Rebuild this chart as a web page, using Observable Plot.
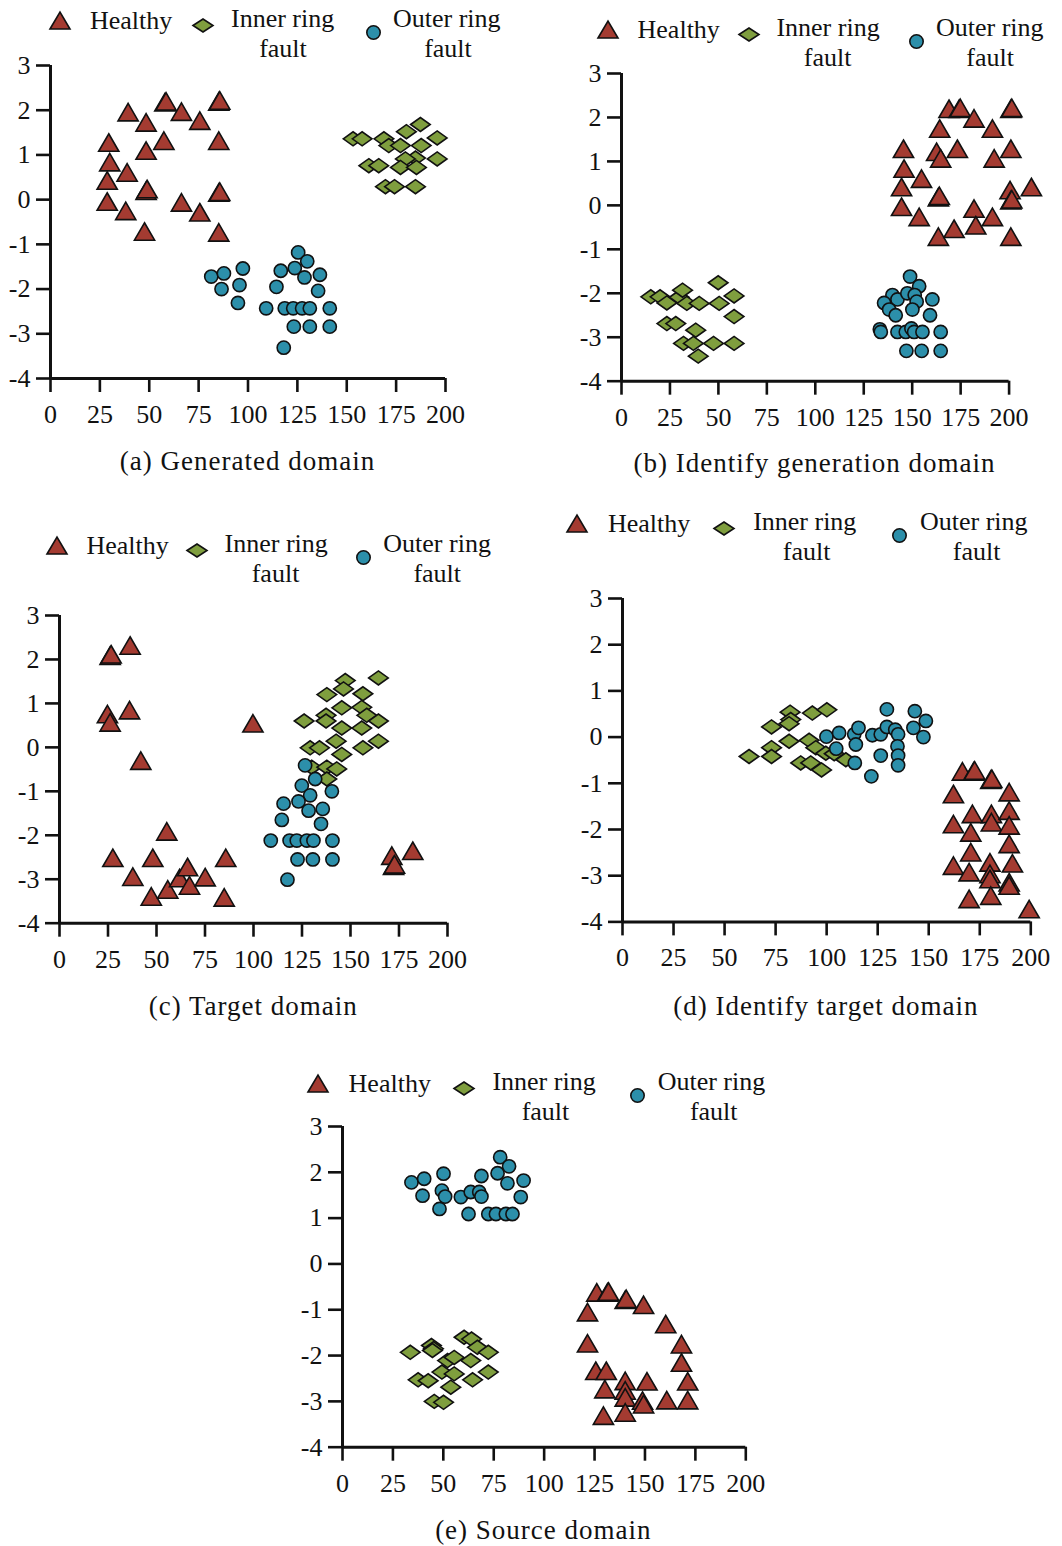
<!DOCTYPE html>
<html><head><meta charset="utf-8">
<script src="https://cdn.jsdelivr.net/npm/d3@7"></script>
<script src="https://cdn.jsdelivr.net/npm/@observablehq/plot@0.6"></script>
<style>
html,body{margin:0;padding:0;background:#fff;overflow:hidden}
#root{position:relative;width:1062px;height:1546px;font-family:"Liberation Serif","Times New Roman",serif;color:#111}
.abs{position:absolute;white-space:nowrap;line-height:26px;font-size:26px}
.cap{position:absolute;white-space:nowrap;font-size:27px;letter-spacing:1px;line-height:28px;transform:translateX(-50%)}
.ctr{transform:translateX(-50%)}
.panel{position:absolute}
.panel svg g[aria-label*="axis"] line,.panel svg g[aria-label*="axis"] path{stroke-width:2.6px}
</style></head><body><div id="root"></div>
<script>
// ---------- data ----------
const xTicks = [0, 25, 50, 75, 100, 125, 150, 175, 200];
const yTicks = [-4, -3, -2, -1, 0, 1, 2, 3];
const seriesNames = ["Healthy", "Inner ring fault", "Outer ring fault"];
const colors = ["#A43B31", "#7F9E3E", "#2C8FAA"];

const aHealthy = [[29.5,1.28],[30,0.84],[28.7,0.43],[28.7,-0.04],[39.3,1.96],[38.8,0.61],[38.1,-0.25],[48.4,1.73],[48.4,1.10],[48.4,0.20],[48.9,0.24],[47.6,-0.71],[57.9,2.18],[58.5,2.2],[57.4,1.32],[66.3,1.97],[66.3,-0.06],[75.6,1.77],[75.6,-0.28],[85.2,2.2],[85.7,2.22],[85.2,1.32],[85.2,0.16],[85.7,0.18],[85.2,-0.73]];
const aInner = [[153.2,1.36],[157.8,1.36],[168.8,1.36],[171.3,1.21],[177.2,1.21],[180.2,1.52],[187.3,1.68],[187.7,1.21],[195.8,1.38],[195.8,0.91],[184.8,0.93],[179.7,0.91],[177.2,0.72],[185.3,0.72],[161.2,0.76],[166.2,0.76],[169.6,0.29],[174.2,0.29],[184.8,0.29]];
const aOuter = [[81.4,-1.72],[87.8,-1.65],[97.4,-1.54],[86.6,-2.0],[95.7,-1.91],[94.9,-2.31],[109.2,-2.43],[116.6,-1.59],[114.4,-1.95],[118.6,-2.43],[122.9,-2.43],[127.4,-2.43],[131.3,-2.43],[141.4,-2.43],[123.2,-2.84],[131.3,-2.84],[141.4,-2.84],[118.1,-3.31],[125.4,-1.18],[130,-1.38],[123.7,-1.53],[128.6,-1.74],[136.4,-1.68],[135.5,-2.04]];

const bHealthy = [[145.5,1.29],[145.8,0.84],[144.5,0.42],[144.5,-0.03],[154.8,0.61],[153.6,-0.26],[163.5,-0.71],[164.2,1.75],[162.6,1.22],[164.7,1.07],[163.5,0.19],[164,0.22],[169,2.2],[174.2,2.2],[174.8,2.22],[173.3,1.29],[171.6,-0.53],[181.9,1.98],[181.9,-0.07],[182.8,-0.45],[191.4,1.75],[192.3,1.07],[191.4,-0.26],[200.9,2.2],[201.4,2.22],[200.9,1.29],[200.5,0.35],[200.9,0.12],[201.4,0.14],[200.9,-0.71],[211.5,0.42]];
const bInner = [[15.1,-2.08],[19.9,-2.08],[23.4,-2.22],[29.8,-2.09],[31.5,-1.93],[33.7,-2.23],[40.1,-2.23],[49.9,-1.76],[50.4,-2.23],[58.1,-2.06],[58.1,-2.53],[23.4,-2.69],[28,-2.69],[38.3,-2.84],[32,-3.14],[37.1,-3.14],[47.5,-3.14],[58.1,-3.14],[39.6,-3.43]];
const bOuter = [[148.9,-1.62],[153.6,-1.84],[139.8,-2.04],[142.4,-2.14],[147.5,-2.0],[151.3,-2.04],[152.3,-2.19],[160.4,-2.14],[135.5,-2.22],[138.1,-2.37],[141.5,-2.5],[150.1,-2.37],[159.2,-2.5],[133.3,-2.82],[133.8,-2.88],[142.4,-2.88],[146.7,-2.88],[149.6,-2.8],[151,-2.88],[155.3,-2.88],[164.7,-2.88],[147,-3.31],[154.9,-3.31],[164.7,-3.31]];

const cHealthy = [[26.1,2.09],[26.6,2.12],[36.4,2.32],[24.7,0.76],[26.1,0.57],[36.1,0.85],[41.9,-0.3],[99.7,0.55],[55.3,-1.91],[27.5,-2.51],[48.1,-2.51],[37.8,-2.94],[47.3,-3.39],[55.8,-3.23],[61.9,-2.97],[66,-2.72],[67,-3.14],[75.1,-2.95],[85.7,-2.51],[84.9,-3.41],[171.3,-2.46],[172.2,-2.69],[172.7,-2.66],[182.1,-2.35]];
const cInner = [[147.3,1.52],[146.4,1.33],[164.4,1.58],[137.8,1.2],[156.4,1.22],[145.5,0.9],[155.8,0.91],[137.4,0.73],[158.4,0.73],[126.1,0.6],[137.4,0.6],[164.4,0.6],[145.5,0.44],[155.8,0.44],[129.2,-0.01],[134,-0.01],[142.6,0.14],[156.4,-0.01],[164.4,0.14],[145.5,-0.16],[130,-0.45],[137.8,-0.45],[142.9,-0.49],[137.8,-0.72]];
const cOuter = [[126.6,-0.41],[131.8,-0.72],[124.9,-0.87],[129.2,-1.09],[140.4,-1.0],[115.5,-1.28],[123.2,-1.23],[128.4,-1.44],[135.7,-1.4],[114.6,-1.65],[134.8,-1.74],[108.9,-2.12],[118.6,-2.12],[122.3,-2.12],[127.5,-2.12],[130.9,-2.12],[140.7,-2.12],[122.7,-2.55],[130.6,-2.55],[140.7,-2.55],[117.5,-3.01]];

const dHealthy = [[166.5,-0.74],[172,-0.74],[172.5,-0.72],[180.4,-0.92],[180.9,-0.9],[162.1,-1.23],[189.4,-1.19],[171.4,-1.66],[180.7,-1.66],[189.4,-1.59],[162.1,-1.88],[180.7,-1.84],[189.4,-1.91],[170.6,-2.06],[189.4,-2.31],[170.6,-2.49],[162.1,-2.78],[180,-2.71],[191,-2.73],[169.8,-2.92],[180,-2.96],[180,-3.07],[189.4,-3.14],[189.4,-3.21],[169.8,-3.5],[180.4,-3.43],[199.2,-3.72]];
const dInner = [[62,-0.42],[73,0.22],[73,-0.23],[73,-0.42],[82.1,0.54],[82.4,0.38],[81.6,0.29],[81.6,-0.09],[93,0.52],[100.1,0.59],[91.4,-0.07],[94.7,-0.23],[87.3,-0.56],[92.2,-0.56],[97.5,-0.71],[99.6,-0.35],[103.7,-0.36],[109.4,-0.49]];
const dOuter = [[99.9,0.01],[106.1,0.09],[113.5,0.06],[115.6,0.2],[114.3,-0.16],[113.8,-0.56],[104.7,-0.25],[122.4,0.04],[126.5,0.06],[129.5,0.6],[129.5,0.22],[133.6,0.16],[135,0.06],[134.7,-0.2],[135,-0.4],[135,-0.61],[126.5,-0.4],[121.9,-0.85],[143.2,0.56],[148.6,0.35],[142.5,0.2],[147.4,0.0]];

const eHealthy = [[126.1,-0.62],[131.4,-0.62],[131.9,-0.6],[121.5,-1.05],[140.2,-0.78],[140.7,-0.76],[149.3,-0.89],[160.3,-1.31],[121.5,-1.73],[168.1,-1.75],[168.1,-2.15],[125.6,-2.33],[130.8,-2.33],[130.1,-2.73],[140.2,-2.55],[140.2,-2.76],[140.2,-2.91],[151,-2.56],[171.2,-2.56],[148.8,-2.98],[149.3,-3.06],[160.8,-2.97],[171.2,-2.97],[129.4,-3.31],[140.2,-3.24]];
const eInner = [[33.6,-1.93],[44.1,-1.78],[45.1,-1.85],[44.6,-1.89],[37.5,-2.53],[42.5,-2.55],[45.5,-3.0],[50.1,-3.02],[49.3,-2.36],[52.1,-2.11],[55.4,-2.04],[53.7,-2.69],[55.4,-2.4],[60.3,-1.6],[64,-1.64],[66.9,-1.82],[63.6,-2.11],[64.5,-2.53],[72.3,-1.93],[72.3,-2.36]];
const eOuter = [[34.2,1.78],[40.5,1.86],[50.1,1.97],[39.7,1.49],[49.3,1.6],[50.9,1.47],[48.1,1.2],[58.7,1.46],[63.6,1.57],[67.8,1.57],[68.9,1.47],[68.9,1.92],[62.5,1.09],[72.3,1.09],[76.1,1.09],[81,1.09],[84.3,1.09],[78.2,2.33],[76.9,1.98],[82.6,2.13],[81.8,1.76],[89.8,1.82],[88.4,1.46]];

const captions = ["(a) Generated domain", "(b) Identify generation domain", "(c) Target domain", "(d) Identify target domain", "(e) Source domain"];

// ---------- layout ----------
const panels = [
  {H:aHealthy, I:aInner, O:aOuter, x0:50, x1:445, yT:65, yB:378, leg:[60,21,1.0], capY:461},
  {H:bHealthy, I:bInner, O:bOuter, x0:620.7, x1:1008.3, yT:73.3, yB:381, leg:[608,30,0.985], capY:463},
  {H:cHealthy, I:cInner, O:cOuter, x0:59.3, x1:447.3, yT:615, yB:922.7, leg:[57,546,0.98], capY:1006},
  {H:dHealthy, I:dInner, O:dOuter, x0:621.7, x1:1030, yT:598.3, yB:921.7, leg:[577,524,1.03], capY:1006},
  {H:eHealthy, I:eInner, O:eOuter, x0:341.7, x1:745, yT:1126, yB:1446.7, leg:[318,1084,1.02], capY:1530}
];

const flatDiamond = {
  draw(ctx, size) {
    const r = Math.sqrt(size / Math.PI);
    const w = r * 1.4, h = r * 1.0;
    ctx.moveTo(-w, 0); ctx.lineTo(0, -h); ctx.lineTo(w, 0); ctx.lineTo(0, h); ctx.closePath();
  }
};

const root = document.getElementById("root");
const fmt = d => String(d);
const hasAxisMarks = typeof Plot.axisX === "function";

function el(html, left, top, cls) {
  const d = document.createElement("div");
  d.className = cls;
  d.style.left = left + "px";
  d.style.top = top + "px";
  d.innerHTML = html;
  root.appendChild(d);
  return d;
}

panels.forEach((p, i) => {
  const mL = 60, mT = 20, mB = 60;
  const mR = Math.min(40, 1062 - p.x1);
  const W = p.x1 - p.x0 + mL + mR;
  const H = p.yB - p.yT + mT + mB;
  const common = {x: d => d[0], y: d => d[1], stroke: "#111", strokeWidth: 1.6};
  const xAxisOpts = {ticks: xTicks, tickSize: 14, tickPadding: 12, tickFormat: fmt, label: null};
  const yAxisOpts = {ticks: yTicks, tickSize: 14, tickPadding: 6, tickFormat: fmt, label: null};
  const axisMarks = hasAxisMarks
    ? [Plot.axisX({...xAxisOpts, strokeWidth: 2.6}), Plot.axisY({...yAxisOpts, strokeWidth: 2.6})]
    : [];
  const svg = Plot.plot({
    width: W, height: H,
    marginLeft: mL, marginRight: mR, marginTop: mT, marginBottom: mB,
    style: {fontSize: "26px", fontFamily: "'Liberation Serif','Times New Roman',serif", color: "#111", background: "transparent", overflow: "visible"},
    x: hasAxisMarks ? {domain: [0, 200]} : {domain: [0, 200], ...xAxisOpts},
    y: hasAxisMarks ? {domain: [-4, 3]} : {domain: [-4, 3], ...yAxisOpts},
    marks: [
      ...axisMarks,
      Plot.ruleY([-4], {x1: 0, x2: 200, stroke: "#111", strokeWidth: 3}),
      Plot.ruleX([0], {y1: -4, y2: 3, stroke: "#111", strokeWidth: 3}),
      Plot.dot(p.H, {...common, symbol: "triangle", r: 7.5, fill: colors[0], dy: 3}),
      Plot.dot(p.I, {...common, symbol: flatDiamond, r: 7, fill: colors[1]}),
      Plot.dot(p.O, {...common, symbol: "circle", r: 6.6, fill: colors[2]})
    ]
  });
  const wrap = document.createElement("div");
  wrap.className = "panel";
  wrap.style.left = (p.x0 - mL) + "px";
  wrap.style.top = (p.yT - mT) + "px";
  wrap.style.width = W + "px";
  wrap.appendChild(svg);
  root.appendChild(wrap);

  // legend
  const [cx, cy, s] = p.leg;
  el(`<svg width="24" height="21"><polygon points="2,19 12,2 22,19" fill="${colors[0]}" stroke="#111" stroke-width="1.6"/></svg>`, cx - 12, cy - 11, "abs");
  el(seriesNames[0], cx + 30 * s, cy - 13, "abs");
  el(`<svg width="24" height="17"><polygon points="2,8.5 12,2 22,8.5 12,15" fill="${colors[1]}" stroke="#111" stroke-width="1.6"/></svg>`, cx + 143 * s - 12, cy - 8.5, "abs");
  el("Inner ring", cx + 171 * s, cy - 15, "abs");
  el("fault", cx + 223 * s, cy + 15, "abs ctr");
  el(`<svg width="17" height="17"><circle cx="8.5" cy="8.5" r="6.7" fill="${colors[2]}" stroke="#111" stroke-width="1.6"/></svg>`, cx + 313 * s - 8.5, cy + 7 - 8.5, "abs");
  el("Outer ring", cx + 333 * s, cy - 15, "abs");
  el("fault", cx + 388 * s, cy + 15, "abs ctr");

  // caption
  el(captions[i], (p.x0 + p.x1) / 2, p.capY - 14, "cap");
});
</script></body></html>
